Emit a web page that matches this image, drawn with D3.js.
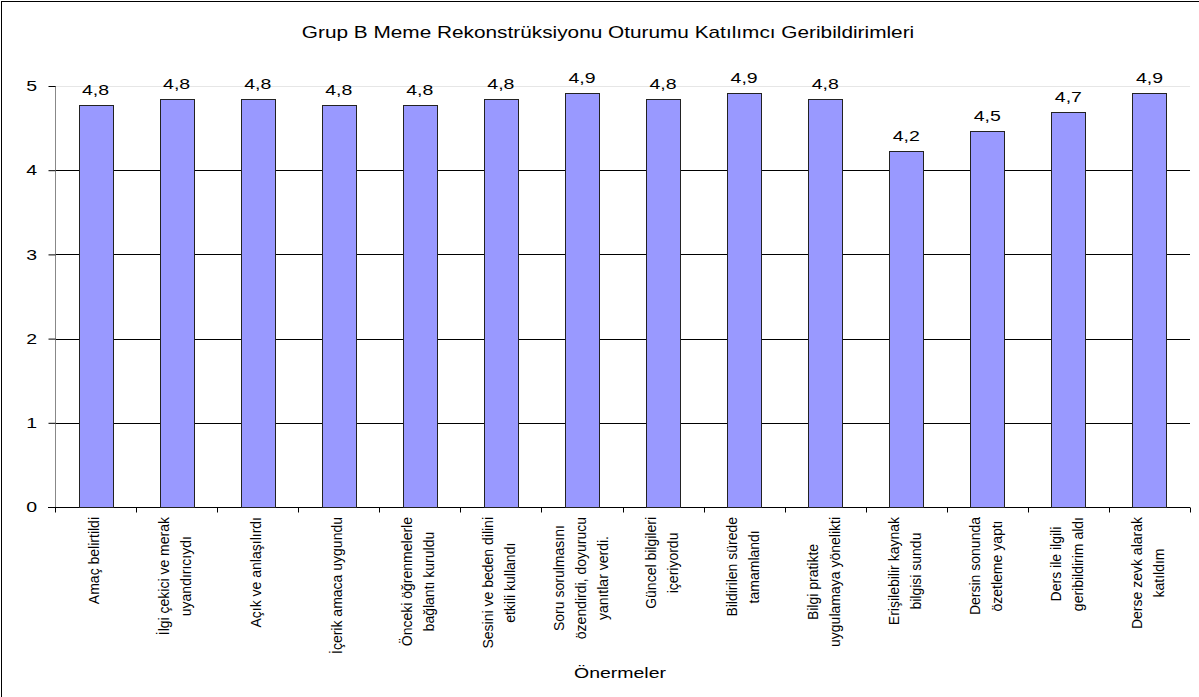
<!DOCTYPE html>
<html>
  <head>
    <script src="https://d3js.org/d3.v7.min.js" charset="utf-8"></script>
    <meta charset="UTF-8">
    <title>Grup B geribildirim</title>
    <style>
      body { margin: 0; background: #fff; }
      svg { display: block; font-family: "Liberation Sans", Arial, sans-serif; }
    </style>
  </head>
  <body>
    <svg class="chart"></svg>
    <script type="text/javascript">

     var width = 1199,
         height = 697,
         stretch = 1.3;   // yatay yazılar resimde geniş duruyor

     // ortalama puanlar (etiketler bir basamak yuvarlanmış)
     var values = [4.77, 4.85, 4.85, 4.77, 4.77, 4.85, 4.92, 4.85, 4.92, 4.85, 4.23, 4.46, 4.69, 4.92];

     var categories = [
         ["Amaç belirtildi"],
         ["İlgi çekici ve merak", "uyandırıcıydı"],
         ["Açık ve anlaşılırdı"],
         ["İçerik amaca uygundu"],
         ["Önceki öğrenmelerle", "bağlantı kuruldu"],
         ["Sesini ve beden dilini", "etkili kullandı"],
         ["Soru sorulmasını", "özendirdi, doyurucu", "yanıtlar verdi."],
         ["Güncel bilgileri", "içeriyordu"],
         ["Bildirilen sürede", "tamamlandı"],
         ["Bilgi pratikte", "uygulamaya yönelikti"],
         ["Erişilebilir kaynak", "bilgisi sundu"],
         ["Dersin sonunda", "özetleme yaptı"],
         ["Ders ile ilgili", "geribildirim aldı"],
         ["Derse zevk alarak", "katıldım"]
     ];

     var yTicks = [0, 1, 2, 3, 4, 5];

     var margin = {left: 55, right: 9, top: 86, bottom: 190};

     function wide(sel, x, y) {
         return sel.attr("transform", "translate(" + x + "," + y + ") scale(" + stretch + ",1)");
     }

     var chart = d3.select(".chart")
                   .attr("width", width)
                   .attr("height", height);

     chart.append("rect")
          .attr("x", 1.5).attr("y", 1.5)
          .attr("width", width + 10).attr("height", height + 10)
          .attr("fill", "none").attr("stroke", "#000");

     var x = d3.scaleBand()
               .domain(d3.range(values.length))
               .range([margin.left, width - margin.right])
               .paddingInner(0.58)
               .paddingOuter(0.29);

     var y = d3.scaleLinear()
               .domain([0, 5])
               .range([height - margin.bottom, margin.top]);

     // yatay ızgara
     chart.append("g")
          .selectAll("line")
          .data(yTicks.filter(function(d) { return d > 0; }))
          .enter().append("line")
          .attr("x1", margin.left)
          .attr("x2", width - margin.right)
          .attr("y1", function(d) { return Math.round(y(d)) + 0.5; })
          .attr("y2", function(d) { return Math.round(y(d)) + 0.5; })
          .attr("stroke", function(d) { return d === 5 ? "#e6e6e6" : "#000"; });

     // y ekseni
     var yAxis = chart.append("g")
          .attr("transform", "translate(" + (margin.left + 0.5) + ",0)")
          .call(d3.axisLeft(y).tickValues(yTicks).tickSize(7).tickFormat(""));
     yAxis.select(".domain").attr("stroke", "#888").attr("d", "M0," + y(5) + "V" + y(0));
     yAxis.selectAll(".tick line").attr("stroke", "#000");

     chart.append("g")
          .selectAll("text")
          .data(yTicks)
          .enter().append("text")
          .attr("text-anchor", "end")
          .attr("dy", "0.35em")
          .attr("font-size", 15)
          .text(function(d) { return d; })
          .each(function(d) { wide(d3.select(this), 37, y(d)); });

     // x ekseni
     var x0 = Math.round(y(0)) + 0.5;
     var xa = chart.append("g");
     xa.append("line")
       .attr("x1", margin.left - 7).attr("x2", width - margin.right)
       .attr("y1", x0).attr("y2", x0).attr("stroke", "#000");
     xa.selectAll(".xt")
       .data(d3.range(values.length + 1))
       .enter().append("line")
       .attr("class", "xt")
       .attr("x1", function(i) { return Math.round(margin.left + i * x.step()) + 0.5; })
       .attr("x2", function(i) { return Math.round(margin.left + i * x.step()) + 0.5; })
       .attr("y1", x0).attr("y2", x0 + 5)
       .attr("stroke", "#000");

     // çubuklar
     chart.append("g")
          .selectAll("rect")
          .data(values)
          .enter().append("rect")
          .attr("x", function(d, i) { return Math.round(x(i)) + 0.5; })
          .attr("y", function(d) { return Math.round(y(d)) + 0.5; })
          .attr("width", Math.round(x.bandwidth()))
          .attr("height", function(d) { return Math.round(y(0)) - Math.round(y(d)); })
          .attr("fill", "#9999ff")
          .attr("stroke", "#222")
          .attr("stroke-width", 1);

     // değer etiketleri
     chart.append("g")
          .selectAll("text")
          .data(values)
          .enter().append("text")
          .attr("text-anchor", "middle")
          .attr("font-size", 15)
          .text(function(d) { return d3.format(".1f")(d).replace(".", ","); })
          .each(function(d, i) { wide(d3.select(this), x(i) + x.bandwidth() / 2, y(d) - 10); });

     // kategori etiketleri (dikey)
     var lineGap = 22, topY = 517, fs = 14;
     var cat = chart.append("g")
          .selectAll("g")
          .data(categories)
          .enter().append("g");

     cat.each(function(lines, i) {
         var g = d3.select(this);
         var cx = x(i) + x.bandwidth() / 2 - 1.5;
         var texts = lines.map(function(s) {
             return g.append("text")
                     .attr("font-size", fs)
                     .attr("text-anchor", "middle")
                     .text(s);
         });
         var maxLen = d3.max(texts, function(t) { return t.node().getComputedTextLength(); });
         var midY = topY + maxLen / 2;
         texts.forEach(function(t, k) {
             var lx = cx + (k - (lines.length - 1) / 2) * lineGap + fs * 0.36;
             t.attr("transform", "translate(" + lx + "," + midY + ") rotate(-90)");
         });
     });

     // başlıklar
     wide(chart.append("text")
          .attr("text-anchor", "middle")
          .attr("font-size", 16)
          .text("Grup B Meme Rekonstrüksiyonu Oturumu Katılımcı Geribildirimleri"), 608, 38);

     wide(chart.append("text")
          .attr("text-anchor", "middle")
          .attr("font-size", 15)
          .text("Önermeler"), 620, 678);

    </script>
  </body>
</html>
